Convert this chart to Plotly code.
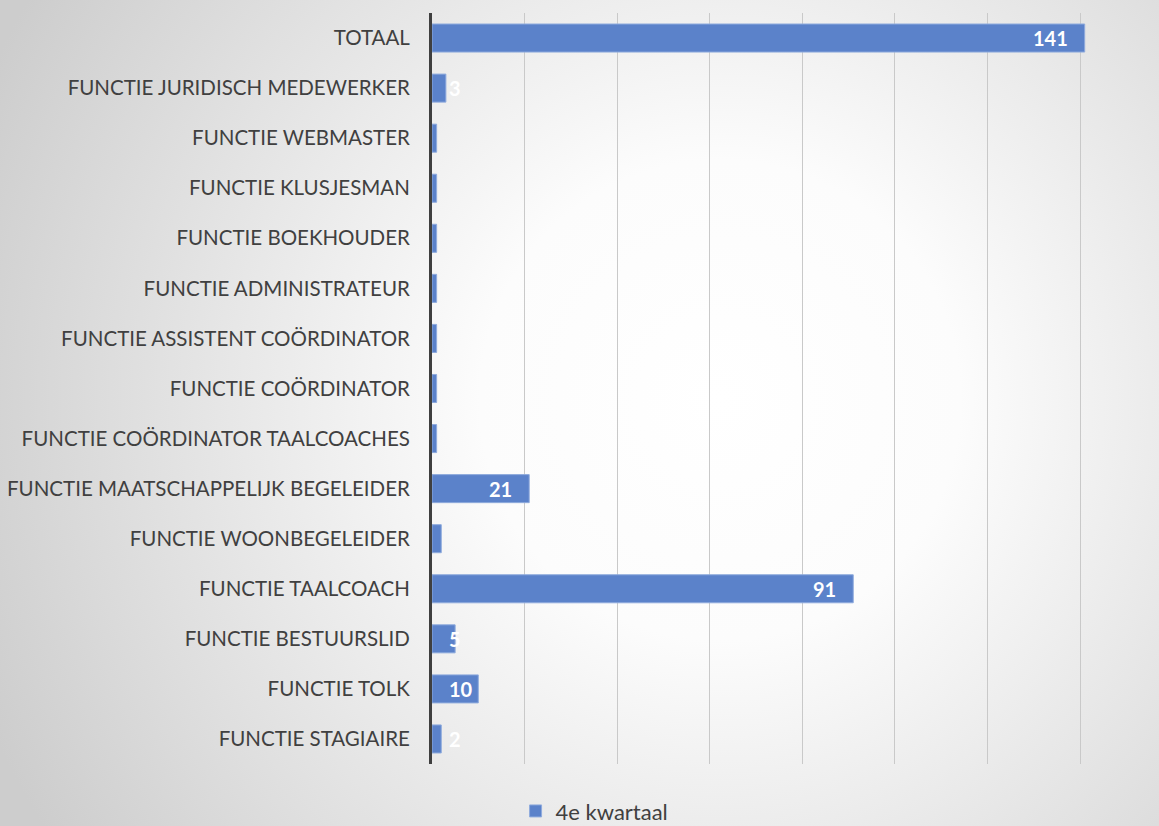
import base64
import plotly.graph_objects as go

categories = [
    "TOTAAL",
    "FUNCTIE JURIDISCH MEDEWERKER",
    "FUNCTIE WEBMASTER",
    "FUNCTIE KLUSJESMAN",
    "FUNCTIE BOEKHOUDER",
    "FUNCTIE ADMINISTRATEUR",
    "FUNCTIE ASSISTENT COÖRDINATOR",
    "FUNCTIE COÖRDINATOR",
    "FUNCTIE COÖRDINATOR TAALCOACHES",
    "FUNCTIE MAATSCHAPPELIJK BEGELEIDER",
    "FUNCTIE WOONBEGELEIDER",
    "FUNCTIE TAALCOACH",
    "FUNCTIE BESTUURSLID",
    "FUNCTIE TOLK",
    "FUNCTIE STAGIAIRE",
]
values = [141, 3, 1, 1, 1, 1, 1, 1, 1, 21, 2, 91, 5, 10, 2]
value_labels = ["141", "3", "", "", "", "", "", "", "", "21", "", "91", "5", "10", "2"]
series_name = "4e kwartaal"

FONT = "Lato, 'Open Sans', sans-serif"

svg = """<svg xmlns='http://www.w3.org/2000/svg' width='1159' height='826' viewBox='0 0 1159 826'>
<defs><radialGradient id='g' cx='720' cy='400' r='800' gradientUnits='userSpaceOnUse'>
<stop offset='0' stop-color='#ffffff'/><stop offset='0.3' stop-color='#fcfcfc'/>
<stop offset='1' stop-color='#cdcdcd'/></radialGradient></defs>
<rect width='1159' height='826' fill='url(#g)'/></svg>"""
src = "data:image/svg+xml;base64," + base64.b64encode(svg.encode()).decode()

fig = go.Figure()
fig.add_trace(go.Bar(
    y=categories, x=values, orientation="h", name=series_name,
    marker=dict(color="#5b82ca", line=dict(color="#8fabdd", width=1)),
    showlegend=True,
))

font_lbl = dict(family=FONT, size=20, color="#ffffff")
for c, v, t in zip(categories, values, value_labels):
    if not t:
        continue
    if v >= 15:
        fig.add_annotation(x=v, y=c, text="<b>%s</b>" % t, showarrow=False,
                           xanchor="right", xshift=-16, borderpad=0, font=font_lbl)
    else:
        fig.add_annotation(x=0, y=c, text="<b>%s</b>" % t, showarrow=False,
                           xanchor="left", xshift=16, borderpad=0, font=font_lbl)

fig.update_layout(
    width=1159, height=826,
    margin=dict(l=432, r=72, t=13, b=62, autoexpand=False),
    paper_bgcolor="rgba(0,0,0,0)",
    plot_bgcolor="rgba(0,0,0,0)",
    bargap=0.44,
    images=[dict(source=src, xref="paper", yref="paper", x=-432/655, y=1+13/751,
                 sizex=1159/655, sizey=826/751, xanchor="left", yanchor="top",
                 sizing="stretch", layer="below")],
    xaxis=dict(range=[0, 141.5], dtick=20, showticklabels=False, showgrid=True,
               gridcolor="#c9c9c9", gridwidth=1, zeroline=False, showline=False,
               automargin=False),
    yaxis=dict(autorange="reversed", showline=True, linecolor="#3f3f3f", linewidth=3,
               ticks="", ticklabelstandoff=15, automargin=False,
               tickfont=dict(family=FONT, size=20.5, color="#404040")),
    legend=dict(orientation="h", xref="container", yref="container", x=0.513, y=0.018,
                xanchor="center", yanchor="middle",
                font=dict(family=FONT, size=22, color="#404040"),
                itemwidth=30),
)

fig.write_html("out.html", config={"displayModeBar": False},
               post_script="document.body.style.margin='0';")
